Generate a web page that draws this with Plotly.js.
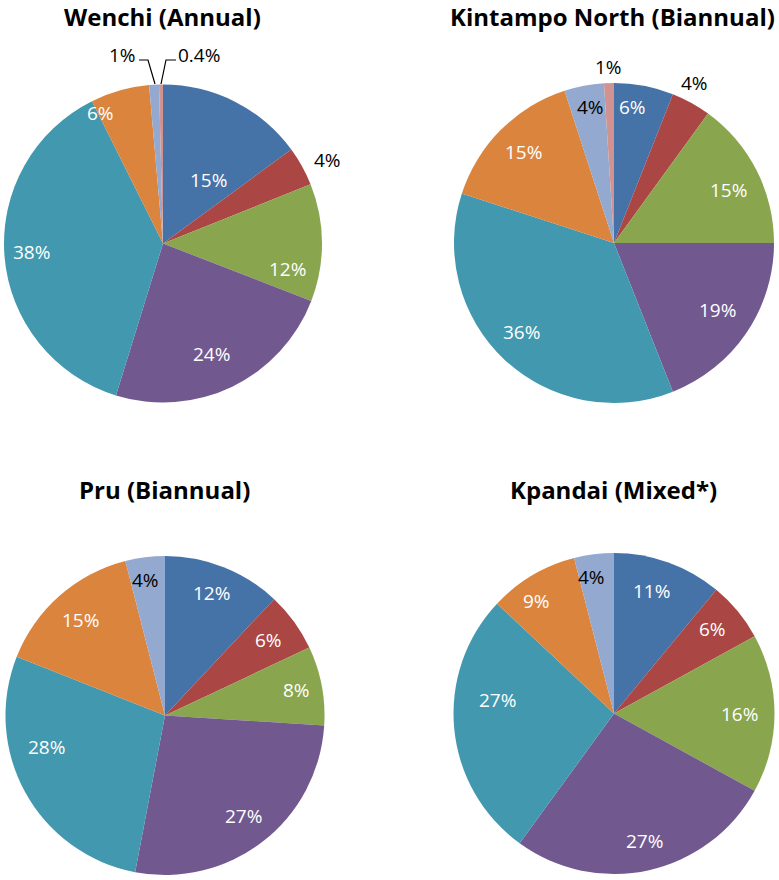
<!DOCTYPE html>
<html><head><meta charset="utf-8">
<script src="https://cdn.plot.ly/plotly-3.0.1.min.js"></script>
<style>body{margin:0;background:#fff}</style>
</head><body>
<div id="chart" style="width:779px;height:880px"></div>
<script>
// ---------- data ----------
const categories = ["Cat 1","Cat 2","Cat 3","Cat 4","Cat 5","Cat 6","Cat 7","Cat 8"];
const colors = ["#4572A7","#AA4643","#89A54E","#71588F","#4198AF","#DB843D","#93A9CF","#D19392"];

const wenchiValues = [15, 4, 12, 24, 38, 6, 1, 0.4];
const wenchiLabels = ["15%","4%","12%","24%","38%","6%","1%","0.4%"];
const kintampoValues = [6, 4, 15, 19, 36, 15, 4, 1];
const kintampoLabels = ["6%","4%","15%","19%","36%","15%","4%","1%"];
const pruValues = [12, 6, 8, 27, 28, 15, 4];
const pruLabels = ["12%","6%","8%","27%","28%","15%","4%"];
const kpandaiValues = [11, 6, 16, 27, 27, 9, 4];
const kpandaiLabels = ["11%","6%","16%","27%","27%","9%","4%"];

const titles = ["Wenchi (Annual)","Kintampo North (Biannual)","Pru (Biannual)","Kpandai (Mixed*)"];

// ---------- layout / style ----------
const W = 779, H = 880;
const FONT = "Open Sans, sans-serif";
const LABEL_SIZE = 19;

// pie boxes in pixels [left, right, top, bottom]
const boxes = [[4, 322, 84, 403], [454, 774, 83, 403], [4, 326, 556, 875], [453, 775, 553, 874]];
// label placement style: radius fraction, angle nudge (deg), text colour; null = drawn separately
const labelStyle = [
  {f:[0.49,1.16,0.8,0.76,0.83,0.91,null,null], a:[9,2,12,2,1,-10,0,0],
   c:["#fff","#000","#fff","#fff","#fff","#fff","#000","#000"]},
  {f:[0.86,1.12,0.79,0.77,0.8,0.8,0.86,1.1], a:[-3,-2,2,-1,3,0,1,0],
   c:["#fff","#000","#fff","#fff","#fff","#fff","#000","#000"]},
  {f:[0.82,0.8,0.84,0.8,0.77,0.8,0.86], a:[-1,0,0,0,14,0,-1],
   c:["#fff","#fff","#fff","#fff","#fff","#fff","#000"]},
  {f:[0.8,0.81,0.78,0.82,0.73,0.85,0.86], a:[-3,-1,0,-1,12,-4,-2],
   c:["#fff","#fff","#fff","#fff","#fff","#fff","#000"]}
];
const titleCenters = [[162, 17], [612, 17], [164, 489], [613, 489]];

const series = [[wenchiValues, wenchiLabels],[kintampoValues, kintampoLabels],[pruValues, pruLabels],[kpandaiValues, kpandaiLabels]];

const px = x => x / W, py = y => 1 - y / H;

const data = [], annotations = [];
series.forEach(([vals, labs], i) => {
  const [l, r, t, b] = boxes[i];
  data.push({
    type: "pie", values: vals, labels: categories.slice(0, vals.length),
    text: labs, textinfo: "none", hoverinfo: "label+text",
    sort: false, direction: "clockwise", rotation: 0,
    marker: {colors: colors.slice(0, vals.length), line: {width: 0}},
    domain: {x: [px(l), px(r)], y: [py(b), py(t)]}, showlegend: false
  });
  const cx = (l + r) / 2, cy = (t + b) / 2, rad = Math.min(r - l, b - t) / 2;
  const total = vals.reduce((s, v) => s + v, 0);
  let cum = 0;
  vals.forEach((v, k) => {
    const mid = (cum + v / 2) / total * 360;
    cum += v;
    const st = labelStyle[i];
    if (st.f[k] === null) return;
    const ang = (mid + st.a[k]) * Math.PI / 180;
    const x = cx + st.f[k] * rad * Math.sin(ang), y = cy - st.f[k] * rad * Math.cos(ang);
    annotations.push({text: labs[k], xref: "paper", yref: "paper", x: px(x), y: py(y),
      xanchor: "center", yanchor: "middle", showarrow: false,
      font: {family: FONT, size: LABEL_SIZE, color: st.c[k]}});
  });
});

titles.forEach((tt, i) => annotations.push({
  text: "<b>" + tt + "</b>", xref: "paper", yref: "paper",
  x: px(titleCenters[i][0]), y: py(titleCenters[i][1]),
  xanchor: "center", yanchor: "middle", showarrow: false,
  font: {family: FONT, size: 24, color: "#000"}
}));

// Wenchi tiny slices: labels with leader lines
annotations.push({text: wenchiLabels[6], xref:"paper", yref:"paper", x: px(122), y: py(55),
  xanchor:"center", yanchor:"middle", showarrow:false, font:{family:FONT,size:LABEL_SIZE,color:"#000"}});
annotations.push({text: wenchiLabels[7], xref:"paper", yref:"paper", x: px(199), y: py(55),
  xanchor:"center", yanchor:"middle", showarrow:false, font:{family:FONT,size:LABEL_SIZE,color:"#000"}});
const pth = pts => pts.map((p, j) => (j ? " L " : "M ") + px(p[0]) + "," + py(p[1])).join("");
const shapes = [
  {type:"path", xref:"paper", yref:"paper", path: pth([[139,60],[148,60],[155,84]]), line:{color:"#000", width:1.2}},
  {type:"path", xref:"paper", yref:"paper", path: pth([[176,60],[166,60],[161,84]]), line:{color:"#000", width:1.2}}
];

Plotly.newPlot("chart", data, {
  width: W, height: H, margin: {l:0, r:0, t:0, b:0},
  paper_bgcolor: "#fff", annotations: annotations, shapes: shapes
}, {displayModeBar: false, staticPlot: true});
</script>
</body></html>
